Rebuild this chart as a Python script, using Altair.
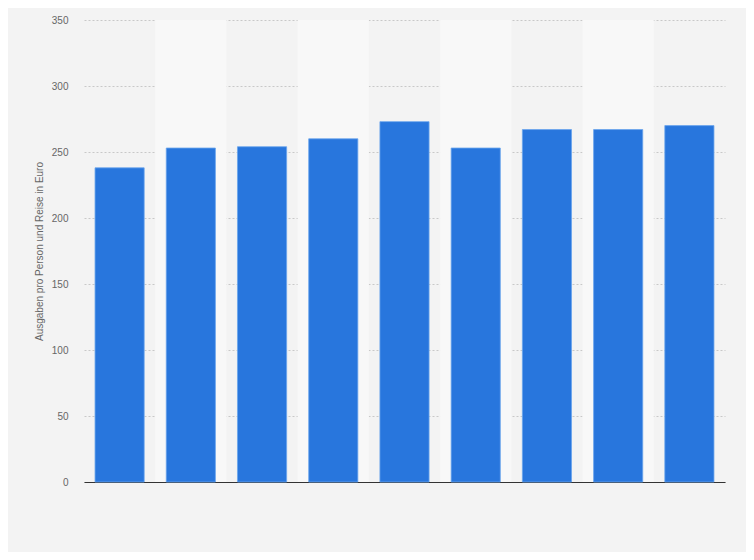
import altair as alt
import pandas as pd

categories = ["2010", "2011", "2012", "2013", "2014", "2015", "2016", "2017", "2018"]
values = [238, 253, 254, 260, 273, 253, 267, 267, 270]
stripe_flags = [0, 1, 0, 1, 0, 1, 0, 1, 0]

df = pd.DataFrame({"cat": categories, "value": values, "stripe": stripe_flags})

x_enc = alt.X("cat:N", sort=categories,
              scale=alt.Scale(paddingInner=0, paddingOuter=0),
              axis=alt.Axis(labels=False, ticks=False, title=None, domain=True,
                            domainColor="#333333", domainWidth=1.2, grid=False))

stripes = alt.Chart(df).transform_filter("datum.stripe == 1").mark_bar(
    color="#f8f8f8", width=alt.RelativeBandSize(1)
).encode(
    x=x_enc,
    y=alt.Y("max_v:Q"),
    y2=alt.Y2("zero:Q"),
).transform_calculate(max_v="350", zero="0")

bars = alt.Chart(df).mark_bar(
    color="#2876dd", stroke="#6aa5ec", strokeWidth=0.8,
    width=alt.RelativeBandSize(0.69)
).encode(
    x=x_enc,
    y=alt.Y("value:Q",
            scale=alt.Scale(domain=[0, 350], nice=False),
            axis=alt.Axis(values=[0, 50, 100, 150, 200, 250, 300, 350],
                          title="Ausgaben pro Person und Reise in Euro",
                          titleColor="#666666", titleFont="Liberation Sans",
                          titleFontSize=10, titleFontWeight="normal",
                          titlePadding=7,
                          labelColor="#666666", labelFont="Liberation Sans",
                          labelFontSize=10, labelPadding=16,
                          ticks=False, domain=False,
                          grid=True, gridColor="#c8c8c8", gridDash=[2, 2],
                          gridWidth=1)),
)

chart = alt.layer(stripes, bars).resolve_scale(y="shared").properties(
    width=641, height=462,
    background="#f3f3f3",
    autosize=alt.AutoSizeParams(type="none"),
    padding={"left": 76, "top": 12, "right": 21, "bottom": 70},
).configure_view(stroke=None, fill="#f3f3f3")

chart.save("out.html", embed_options={"renderer": "svg", "actions": False})
